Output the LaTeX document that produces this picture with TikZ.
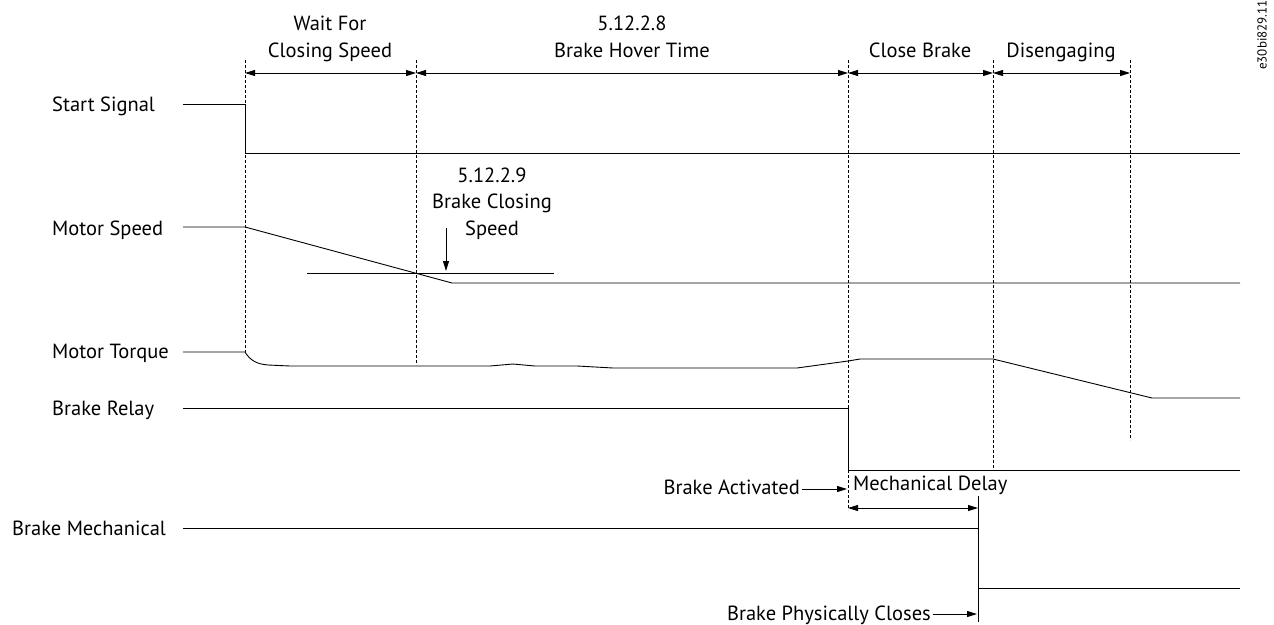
\documentclass[tikz,border=0pt]{standalone}
\usepackage{fontspec}
\setmainfont{PT Sans}
\usetikzlibrary{arrows.meta,positioning,calc}

\begin{document}
\begin{tikzpicture}[x=1pt,y=-1pt,
      font=\fontsize{20.5}{26.5}\selectfont,
      sig/.style={line width=0.9pt,color=black},
      guide/.style={line width=0.8pt,dash pattern=on 3pt off 2pt},
      dim/.style={{Triangle[length=10pt,width=6pt]}-{Triangle[length=10pt,width=6pt]},line width=0.9pt},
      ar/.style={-{Triangle[length=10pt,width=6pt]},line width=0.9pt},
      lbl/.style={anchor=base west,inner sep=0pt},
      head/.style={anchor=base,align=center,inner sep=0pt}]
      \useasboundingbox (0,0) rectangle (1274,624);
      % signal names
      \node[lbl] (start) at (52,111) {Start Signal};
      \node[lbl] (speed) at (52,235) {Motor Speed};
      \node[lbl] (torque) at (52,358) {Motor Torque};
      \node[lbl] (relay) at (52,415) {Brake Relay};
      \node[lbl] (mech) at (12,535) {Brake Mechanical};
      % phase headings (base = last line)
      \node[head] (wait) at (330,57) {Wait For\\Closing Speed};
      \node[head] (hover) at (632,57) {5.12.2.8\\Brake Hover Time};
      \node[head] (close) at (920,57) {Close Brake};
      \node[head] (diseng) at (1061,57) {Disengaging};
      \node[rotate=90,font=\fontsize{13}{15}\selectfont,inner sep=0pt] (docid) at (1262,35) {e30bi829.11};
      % time marks
      \coordinate (t0) at (245,73); \coordinate (t1) at (416,73);
      \coordinate (t2) at (848,73); \coordinate (t3) at (993,73);
      \coordinate (t4) at (1130,73);
      \draw[guide] (245,60) -- (245,352); \draw[guide] (416,60) -- (416,365);
      \draw[guide] (848,60) -- (848,510); \draw[guide] (993,60) -- (993,470);
      \draw[guide] (1130,60) -- (1130,440);
      \draw[dim] (t0) -- (t1); \draw[dim] (t1) -- (t2);
      \draw[dim] (t2) -- (t3); \draw[dim] (t3) -- (t4);
      % waveforms
      \draw[sig] (183,104) -- (245,104) -- (245,153) -- (1240,153);
      \draw[sig] (183,227) -- (245,227) -- (452,283) -- (1240,283);
      \draw[sig] (307,273) -- (554,273);
      \draw[sig] (183,352) -- (245,352) .. controls (250,360) and (256,364) .. (268,365)
            -- (290,366) -- (490,366) -- (513,364) -- (535,366) -- (577,366) -- (613,368)
            -- (797,368) -- (848,361) -- (860,359) -- (993,359) -- (1152,398) -- (1240,398);
      \draw[sig] (183,408) -- (848,408) -- (848,470) -- (1240,470);
      \draw[sig] (183,528) -- (978,528) -- (978,588) -- (1240,588);
      \draw[sig] (978,496) -- (978,622);
      % closing speed marker
      \node[head] (clspd) at (492,235) {5.12.2.9\\Brake Closing\\Speed};
      \coordinate (clhit) at (446,271);
      \draw[ar] (446,228) -- (clhit);
      % brake events
      \node[anchor=base east,inner sep=0pt] (bact) at (800,494) {Brake Activated};
      \coordinate (relayfall) at (847,489);
      \draw[ar] (bact.east |- relayfall) ++(2,0) -- (relayfall);
      \node[lbl] (mdelay) at (853,490) {Mechanical Delay};
      \coordinate (m0) at (848,508); \coordinate (m1) at (978,508);
      \draw[dim] (m0) -- (m1);
      \node[anchor=base east,inner sep=0pt] (bphys) at (931,620) {Brake Physically Closes};
      \coordinate (mechfall) at (977,614);
      \draw[ar] (bphys.east |- mechfall) ++(2,0) -- (mechfall);
    \end{tikzpicture}
\end{document}
